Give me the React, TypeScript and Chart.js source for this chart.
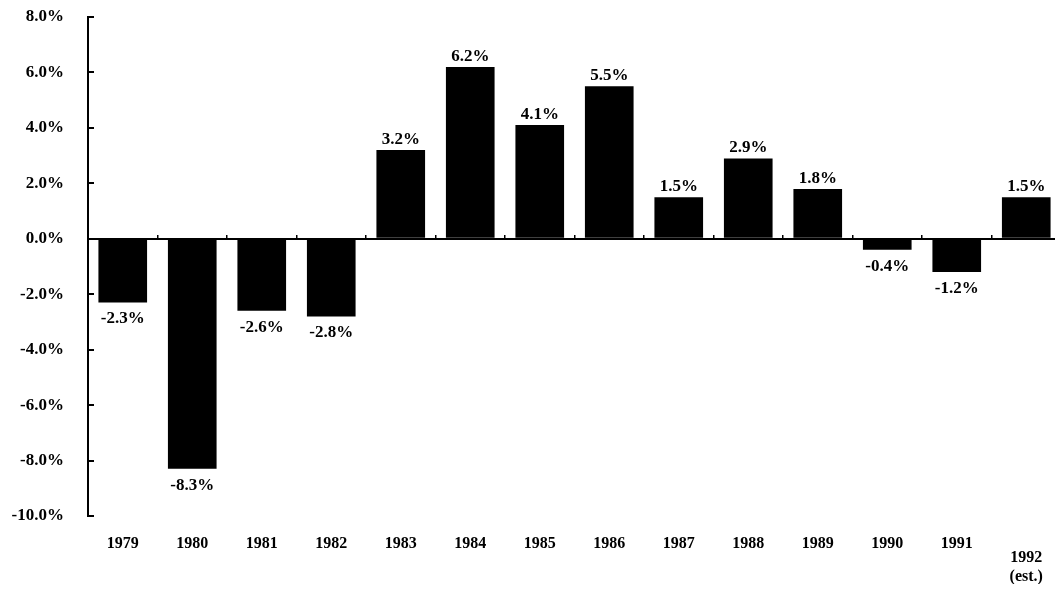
import React, { useEffect, useRef } from "react";
import { Chart, registerables } from "chart.js";

Chart.register(...registerables);

const years = ["1979", "1980", "1981", "1982", "1983", "1984", "1985", "1986", "1987", "1988", "1989", "1990", "1991", "1992"];
const growth = [-2.3, -8.3, -2.6, -2.8, 3.2, 6.2, 4.1, 5.5, 1.5, 2.9, 1.8, -0.4, -1.2, 1.5];
const estimateNote = "(est.)";
const yMin = -10;
const yMax = 8;
const yStep = 2;

const FONT = "'Liberation Serif', 'Times New Roman', serif";

const lastIdx = years.length - 1;
const rowLabels = years.map((y, i) => (i === lastIdx ? "" : y));
const estLabels = years.map((y, i) => (i === lastIdx ? [y, estimateNote] : ""));

const valueLabels = {
  id: "valueLabels",
  afterDatasetsDraw(chart: any) {
    const ctx = chart.ctx;
    const meta = chart.getDatasetMeta(0);
    const data = chart.data.datasets[0].data as number[];
    ctx.save();
    ctx.fillStyle = "#000";
    ctx.font = `bold 17px ${FONT}`;
    ctx.textAlign = "center";
    meta.data.forEach((el: any, i: number) => {
      const v = data[i];
      const txt = v.toFixed(1) + "%";
      if (v >= 0) {
        ctx.textBaseline = "alphabetic";
        ctx.fillText(txt, el.x, el.y - 6);
      } else {
        ctx.textBaseline = "top";
        ctx.fillText(txt, el.x, el.y + 8);
      }
    });
    ctx.restore();
  },
};

export default function App() {
  const ref = useRef<HTMLCanvasElement | null>(null);

  useEffect(() => {
    if (!ref.current) return;
    const chart = new Chart(ref.current, {
      type: "bar",
      data: {
        labels: years,
        datasets: [
          {
            data: growth,
            backgroundColor: "#000",
            borderWidth: 0,
            barPercentage: 0.7,
            categoryPercentage: 1,
          },
        ],
      },
      plugins: [valueLabels],
      options: {
        responsive: false,
        animation: false,
        devicePixelRatio: 1,
        layout: { padding: { top: 17, right: 1, bottom: 5, left: 0 } },
        plugins: {
          legend: { display: false },
          tooltip: { enabled: false },
        },
        scales: {
          x: {
            type: "category",
            position: { y: 0 } as any,
            offset: true,
            grid: {
              display: true,
              drawOnChartArea: false,
              drawTicks: true,
              tickLength: -5,
              offset: true,
              color: "#000",
              lineWidth: 1.5,
            },
            border: { display: true, color: "#000", width: 2 },
            ticks: { display: false },
          },
          xa: {
            type: "category",
            position: "bottom",
            labels: rowLabels,
            offset: true,
            weight: 0,
            grid: { display: false, drawTicks: false },
            border: { display: false },
            ticks: {
              autoSkip: false,
              maxRotation: 0,
              padding: 18,
              color: "#000",
              font: { family: FONT, size: 16, weight: "bold", lineHeight: 1.2 },
            },
            afterFit: (s: any) => {
              s.height = 32;
            },
          } as any,
          xb: {
            type: "category",
            position: "bottom",
            labels: estLabels,
            offset: true,
            weight: 1,
            grid: { display: false, drawTicks: false },
            border: { display: false },
            ticks: {
              autoSkip: false,
              maxRotation: 0,
              padding: 0,
              color: "#000",
              font: { family: FONT, size: 16, weight: "bold", lineHeight: 1.2 },
            },
            afterFit: (s: any) => {
              s.height = 36;
            },
          } as any,
          y: {
            position: "left",
            min: yMin,
            max: yMax,
            ticks: {
              stepSize: yStep,
              padding: 30,
              color: "#000",
              font: { family: FONT, size: 17, weight: "bold" },
              callback: (v: any) => Number(v).toFixed(1) + "%",
            },
            grid: {
              drawOnChartArea: false,
              drawTicks: true,
              tickLength: -6,
              color: "#000",
              lineWidth: 2,
            },
            border: { display: true, color: "#000", width: 2 },
            afterFit: (s: any) => {
              s.width = 88;
              s.paddingTop = 8;
              s.paddingBottom = 8;
            },
          },
        },
      } as any,
    });
    return () => chart.destroy();
  }, []);

  return (
    <div style={{ position: "fixed", left: 0, top: 0, width: 1055, height: 589, overflow: "hidden", background: "#fff" }}>
      <canvas ref={ref} width={1062} height={589} style={{ display: "block", width: 1062, height: 589 }} />
    </div>
  );
}
